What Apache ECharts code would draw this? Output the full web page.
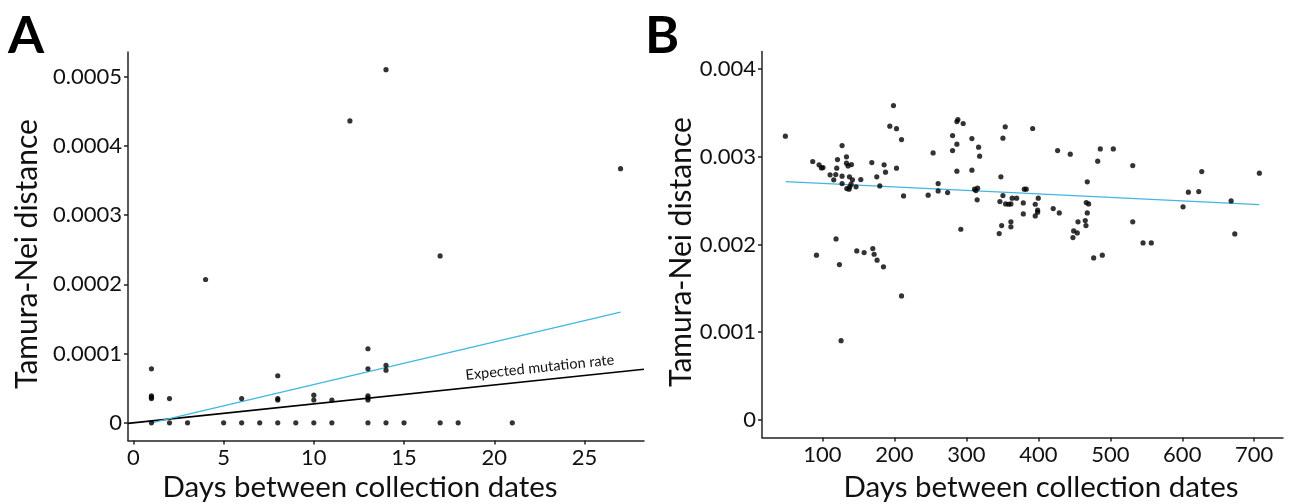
<!DOCTYPE html>
<html>
<head>
<meta charset="utf-8">
<script src="https://cdn.jsdelivr.net/npm/echarts@6/dist/echarts.min.js"></script>
<style>
html,body{margin:0;padding:0;background:#fff;}
#chart{width:1292px;height:504px;}
</style>
</head>
<body>
<div id="chart"></div>
<script>
// ---------- Panel A data ----------
const pointsA = [
  [1,0],[2,0],[3,0],[5,0],[6,0],[7,0],[8,0],[9,0],[10,0],[11,0],[13,0],[14,0],[15,0],[17,0],[18,0],[21,0],
  [1,0.000078],[1,0.000039],[1,0.000037],[1,0.000035],
  [2,0.000035],[4,0.000207],[6,0.000035],
  [8,0.000068],[8,0.000035],[8,0.000033],
  [10,0.000040],[10,0.000033],[11,0.000033],
  [12,0.000436],[13,0.000107],[13,0.000078],[13,0.000039],[13,0.000036],[13,0.000033],
  [14,0.000510],[14,0.000083],[14,0.000076],
  [17,0.000241],[27,0.000367]
];
const fitA = [[1,0],[27,0.000160]];
const expectedA = [[-0.3,-0.00000082],[28.3,0.0000775]];
const xTicksA = [0,5,10,15,20,25];
const yTicksA = [0,0.0001,0.0002,0.0003,0.0004,0.0005];
const yTickLabelsA = ['0','0.0001','0.0002','0.0003','0.0004','0.0005'];

// ---------- Panel B data ----------
const pointsB = [
  [48.5,0.003235],[198.7,0.003584],[193.6,0.003349],[202.9,0.00332],[127.3,0.003128],[86.5,0.002946],
  [133.4,0.002999],[120.9,0.002968],[95.3,0.002908],[98.6,0.002873],[100.8,0.002877],[133.4,0.002927],
  [135.6,0.002896],[140.3,0.002911],[119.9,0.00287],[168.6,0.002934],[185.7,0.002908],[187.6,0.002824],
  [202.9,0.00287],[110.6,0.002794],[118.5,0.002797],[127.3,0.002779],[115.7,0.002737],[137.5,0.002771],
  [141.7,0.002737],[153.3,0.00274],[175.5,0.002771],[127.3,0.002694],[139.8,0.002688],[146.7,0.002657],
  [133.8,0.002637],[137.0,0.002631],[138.0,0.002657],[179.7,0.002668],
  [118.9,0.002064],[91.7,0.001878],[123.6,0.001771],[147.7,0.001927],[157.9,0.001908],[170.0,0.001953],
  [171.8,0.001889],[175.9,0.001821],[184.8,0.001745],[125.9,0.000904],
  [292.3,0.002174],[209.9,0.001414],[349.0,0.002216],[345.6,0.002124],
  [209.9,0.003196],[253.8,0.003044],[212.7,0.002554],[246.9,0.002562],[260.8,0.002694],[260.8,0.002611],
  [273.9,0.002592],[286.8,0.003401],[288.2,0.003424],[295.6,0.003379],[280.8,0.003242],[286.8,0.003144],
  [280.8,0.003071],[307.7,0.003208],[317.0,0.003109],[318.4,0.003007],[286.8,0.002836],[307.7,0.002847],
  [354.0,0.003341],[350.8,0.003212],[348.0,0.002771],[311.4,0.002631],[315.6,0.002642],[313.2,0.002615],
  [315.0,0.002509],[350.8,0.002558],[346.6,0.002489],[354.5,0.002463],[358.7,0.002459],
  [392.1,0.003322],[361.9,0.002463],[363.7,0.002528],[369.8,0.002528],[361.9,0.002258],[361.9,0.002201],
  [380.5,0.002631],[383.2,0.002631],[379.1,0.002474],[379.1,0.002349],[395.7,0.002459],[399.9,0.002528],
  [399.0,0.002391],[399.0,0.002368],[395.7,0.002326],[426.8,0.003071],[444.4,0.00303],[420.7,0.002409],
  [429.1,0.00236],[455.1,0.002258],[449.1,0.002155],[454.1,0.002132],[448.1,0.002079],[468.0,0.002714],
  [466.6,0.002478],[469.9,0.002463],[468.0,0.00236],[465.2,0.002273],[466.2,0.002216],[476.9,0.001847],
  [488.9,0.001878],[486.1,0.00309],[504.2,0.00309],[482.5,0.00295],
  [531.2,0.0029],[531.2,0.002258],[545.5,0.002018],[557.0,0.002018],[601.1,0.002429],[608.5,0.002596],
  [622.9,0.002603],[627.1,0.002831],[667.9,0.002497],[673.0,0.002121],[707.2,0.002813]
];
const fitB = [[49,0.002717],[707,0.002455]];
const xTicksB = [100,200,300,400,500,600,700];
const yTicksB = [0,0.001,0.002,0.003,0.004];
const yTickLabelsB = ['0','0.001','0.002','0.003','0.004'];

const xTitle = 'Days between collection dates';
const yTitle = 'Tamura-Nei distance';
const annotationText = 'Expected mutation rate';

const FONT = 'Lato';
const AXIS_COLOR = '#222';
const BLUE = '#41B6E0';

function lookup(vals, labels) {
  return function (v) {
    for (let i = 0; i < vals.length; i++) if (Math.abs(vals[i] - v) < 1e-9) return labels[i];
    return '';
  };
}

function valueAxis(gridIndex, min, max, ticks, fmt) {
  return {
    type: 'value', gridIndex: gridIndex, min: min, max: max,
    splitLine: { show: false },
    axisLine: { show: true, onZero: false, lineStyle: { color: AXIS_COLOR, width: 1.5 } },
    axisTick: { show: true, length: 4, customValues: ticks, lineStyle: { color: AXIS_COLOR, width: 1.5 } },
    axisLabel: { customValues: ticks, formatter: fmt, color: '#111', fontFamily: FONT, fontSize: 22, margin: 6 }
  };
}

const chart = echarts.init(document.getElementById('chart'), null, { renderer: 'canvas' });

const option = {
  animation: false,
  backgroundColor: '#fff',
  grid: [
    { left: 128, top: 52, width: 516, height: 388.5 },
    { left: 762, top: 51.5, width: 521, height: 386 }
  ],
  xAxis: [
    valueAxis(0, -0.3, 28.3, xTicksA, v => String(v)),
    valueAxis(1, 16, 740, xTicksB, v => String(v))
  ],
  yAxis: [
    valueAxis(0, -0.0000255, 0.0005355, yTicksA, lookup(yTicksA, yTickLabelsA)),
    valueAxis(1, -0.0002, 0.0042, yTicksB, lookup(yTicksB, yTickLabelsB))
  ],
  series: [
    { type: 'line', xAxisIndex: 0, yAxisIndex: 0, data: expectedA, showSymbol: false, symbol: 'none',
      lineStyle: { color: '#000', width: 1.6 }, z: 2 },
    { type: 'line', xAxisIndex: 0, yAxisIndex: 0, data: fitA, showSymbol: false, symbol: 'none',
      lineStyle: { color: BLUE, width: 1.3 }, z: 2 },
    { type: 'scatter', xAxisIndex: 0, yAxisIndex: 0, data: pointsA, symbolSize: 5.2,
      itemStyle: { color: '#000' }, z: 3 },
    { type: 'line', xAxisIndex: 1, yAxisIndex: 1, data: fitB, showSymbol: false, symbol: 'none',
      lineStyle: { color: BLUE, width: 1.3 }, z: 2 },
    { type: 'scatter', xAxisIndex: 1, yAxisIndex: 1, data: pointsB, symbolSize: 5.2,
      itemStyle: { color: '#000' }, z: 3 }
  ]
};
chart.setOption(option);

// annotation along the expected-rate line, positioned through the axes
const p0 = chart.convertToPixel({ gridIndex: 0 }, expectedA[0]);
const p1 = chart.convertToPixel({ gridIndex: 0 }, expectedA[1]);
const angle = Math.atan2(p0[1] - p1[1], p1[0] - p0[0]);
const t = (22.6 - expectedA[0][0]) / (expectedA[1][0] - expectedA[0][0]);
const ax = p0[0] + t * (p1[0] - p0[0]);
const ay = p0[1] + t * (p1[1] - p0[1]);
const off = 5;

chart.setOption({
  graphic: [
    { type: 'text', x: ax - Math.sin(angle) * off, y: ay - Math.cos(angle) * off, rotation: angle,
      style: { text: annotationText, font: '14.5px ' + FONT, fill: '#111', textAlign: 'center', textVerticalAlign: 'bottom' } },
    { type: 'text', x: 360, y: 487, style: { text: xTitle, font: '29.5px ' + FONT, fill: '#111', textAlign: 'center', textVerticalAlign: 'middle' } },
    { type: 'text', x: 1041, y: 487, style: { text: xTitle, font: '29.5px ' + FONT, fill: '#111', textAlign: 'center', textVerticalAlign: 'middle' } },
    { type: 'text', x: 27, y: 254, rotation: Math.PI / 2, style: { text: yTitle, font: '30px ' + FONT, fill: '#111', textAlign: 'center', textVerticalAlign: 'middle' } },
    { type: 'text', x: 681, y: 252, rotation: Math.PI / 2, style: { text: yTitle, font: '30px ' + FONT, fill: '#111', textAlign: 'center', textVerticalAlign: 'middle' } },
    { type: 'text', x: 8, y: 36, style: { text: 'A', font: 'bold 52px ' + FONT, fill: '#000', textAlign: 'left', textVerticalAlign: 'middle' } },
    { type: 'text', x: 645, y: 36, style: { text: 'B', font: 'bold 52px ' + FONT, fill: '#000', textAlign: 'left', textVerticalAlign: 'middle' } }
  ]
});
</script>
</body>
</html>
